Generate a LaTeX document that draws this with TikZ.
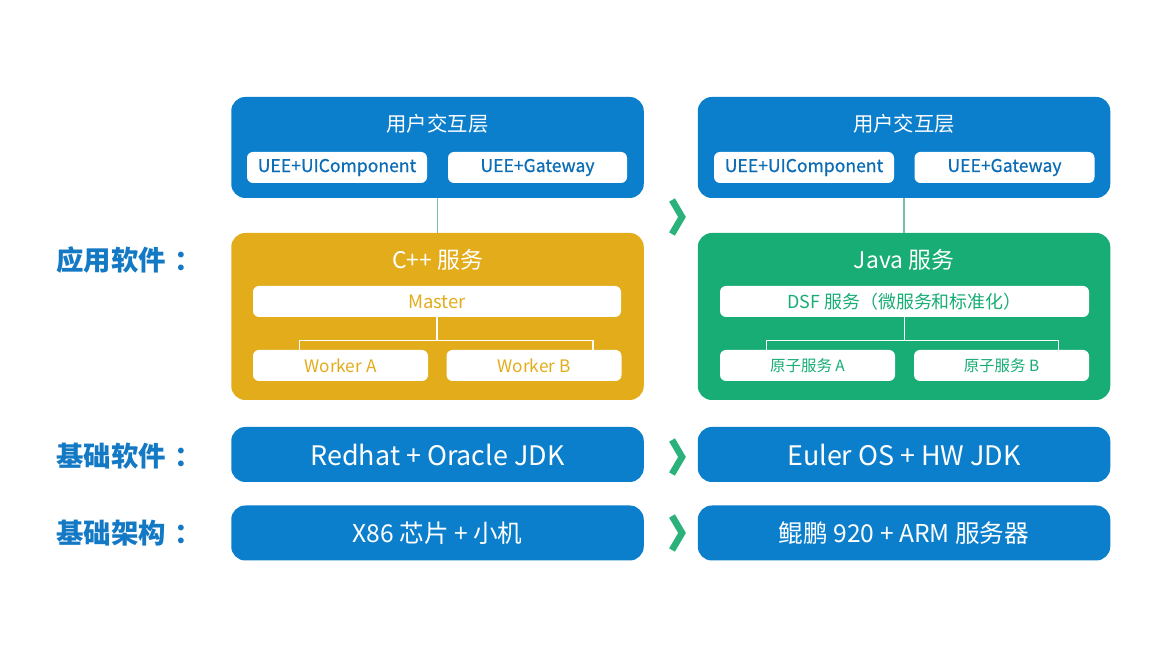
\documentclass[tikz,border=0pt]{standalone}
\usepackage{fontspec}
\setmainfont{Noto Sans CJK SC}
\newfontfamily\medfont{Noto Sans CJK SC}[FakeBold=0.6]
\usetikzlibrary{positioning, calc}
\definecolor{lyblue}{HTML}{0B7FCC}
\definecolor{lytext}{HTML}{0A6DB5}
\definecolor{cpyel}{HTML}{E2AC1A}
\definecolor{jvgrn}{HTML}{17AD74}
\definecolor{lbblue}{HTML}{1479C4}
\definecolor{chgrn}{HTML}{2BB27A}
\definecolor{lkteal}{HTML}{74C3A8}

\begin{document}
\begin{tikzpicture}[font=\medfont\fontsize{10}{12}\selectfont,
      lay/.style={fill=lyblue, rounded corners=8pt, minimum width=8.25cm, minimum height=2.02cm, inner sep=0pt},
      svc/.style={rounded corners=8pt, minimum width=8.25cm, minimum height=3.34cm, inner sep=0pt},
      bot/.style={fill=lyblue, rounded corners=8pt, minimum width=8.25cm, minimum height=1.1cm, inner sep=0pt,
                  text=white, font=\fontsize{14}{16}\selectfont},
      wb/.style={fill=white, rounded corners=3.4pt, minimum height=0.62cm, inner sep=0pt},
      ttl/.style={text=white, font=\rmfamily\fontsize{11.6}{13}\selectfont},
      lbl/.style={text=lbblue, anchor=west, font=\rmfamily\fontsize{15.6}{17}\selectfont\bfseries},
      lnk/.style={draw=lkteal, line width=0.8pt},
      tree/.style={draw=white, line width=0.8pt},
      chev/.style={draw=chgrn, line width=3.8pt, line join=miter}]
  \useasboundingbox (0,0) rectangle (23.5,12.94);

  % left column
  \node[lay] (ul) at (8.75,9.99) {};
  \node[ttl] at (8.75,10.46) {用户交互层};
  \node[wb, minimum width=3.6cm, text=lytext] (ua) at (6.74,9.59) {UEE+UIComponent};
  \node[wb, minimum width=3.58cm, text=lytext] (ug) at (10.75,9.59) {UEE+Gateway};
  \node[svc, fill=cpyel] (cs) at (8.75,6.61) {};
  \node[ttl, font=\rmfamily\fontsize{13}{15}\selectfont] at (8.75,7.74) {C++ 服务};
  \node[wb, minimum width=7.36cm, text=cpyel, font=\fontsize{10.5}{12}\selectfont] (ms) at (8.74,6.91) {Master};
  \node[wb, minimum width=3.5cm, text=cpyel, font=\fontsize{9.8}{11}\selectfont] (wa) at (6.81,5.63) {Worker A};
  \node[wb, minimum width=3.5cm, text=cpyel, font=\fontsize{9.8}{11}\selectfont] (wk) at (10.68,5.63) {Worker B};
  \draw[lnk] (ul) -- (cs);
  \draw[tree] (ms.south) -- ++(0,-0.46) coordinate (mj);
  \draw[tree] ([xshift=0.94cm]wa.north west) |- (mj) -| ([xshift=-0.58cm]wk.north east);
  \node[bot, font=\fontsize{15.3}{17}\selectfont] (os1) at (8.75,3.85) {Redhat + Oracle JDK};
  \node[bot] (hw1) at (8.75,2.28) {X86 芯片 + 小机};

  % right column
  \node[lay] (ur) at (18.08,9.99) {};
  \node[ttl] at (18.08,10.46) {用户交互层};
  \node[wb, minimum width=3.6cm, text=lytext] (rua) at (16.08,9.59) {UEE+UIComponent};
  \node[wb, minimum width=3.6cm, text=lytext] (rug) at (20.09,9.59) {UEE+Gateway};
  \node[svc, fill=jvgrn] (js) at (18.08,6.61) {};
  \node[ttl, font=\rmfamily\fontsize{13}{15}\selectfont] at (18.08,7.74) {Java 服务};
  \node[wb, minimum width=7.38cm, text=jvgrn, font=\fontsize{10.2}{12}\selectfont] (ds) at (18.09,6.91) {DSF 服务（微服务和标准化）};
  \node[wb, minimum width=3.5cm, text=jvgrn, font=\fontsize{8.8}{10}\selectfont] (aa) at (16.15,5.63) {原子服务 A};
  \node[wb, minimum width=3.5cm, text=jvgrn, font=\fontsize{8.8}{10}\selectfont] (ab) at (20.03,5.63) {原子服务 B};
  \draw[lnk] (ur) -- (js);
  \draw[tree] (ds.south) -- ++(0,-0.46) coordinate (dj);
  \draw[tree] ([xshift=0.94cm]aa.north west) |- (dj) -| ([xshift=-0.62cm]ab.north east);
  \node[bot, font=\fontsize{15.3}{17}\selectfont] (os2) at (18.08,3.85) {Euler OS + HW JDK};
  \node[bot] (hw2) at (18.08,2.28) {鲲鹏 920 + ARM 服务器};

  % row labels
  \node[lbl] at (1.0,7.74) {应用软件\hspace{0.3em}：};
  \node[lbl] at (1.0,3.82) {基础软件\hspace{0.3em}：};
  \node[lbl] at (1.0,2.28) {基础架构\hspace{0.3em}：};

  % chevrons
  \foreach \y in {8.6,3.8,2.28}
    \draw[chev] (13.44,\y+0.34) -- (13.64,\y) -- (13.44,\y-0.34);
\end{tikzpicture}
\end{document}
